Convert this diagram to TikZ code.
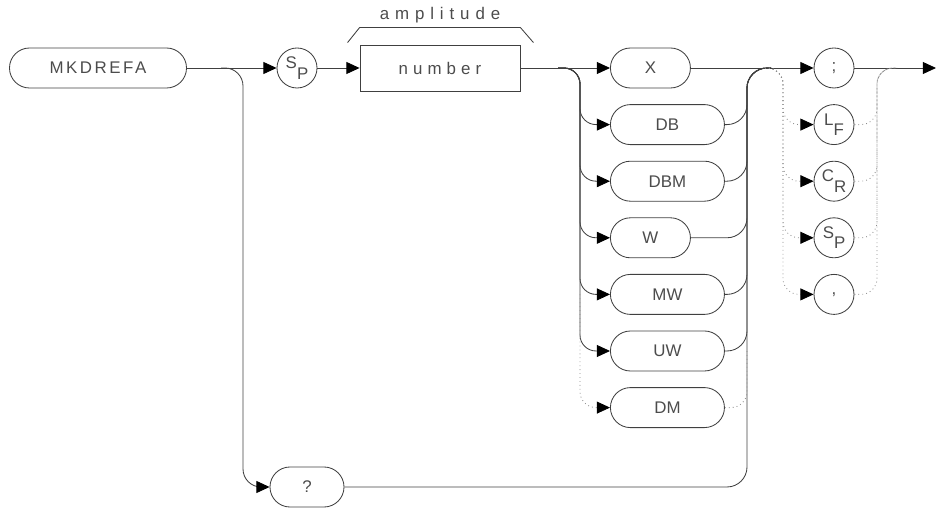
\documentclass[tikz,border=0pt]{standalone}
\usepackage{fontspec}
\setsansfont{Liberation Sans}
\usetikzlibrary{positioning,arrows.meta,calc}

% letter pair set high/low inside a terminator circle
\newcommand\updown[2]{\raisebox{.30em}{#1}\raisebox{-.32em}{#2}}
% tracked text, as the plotter font spaces it
\newcommand\spaced[2]{{\addfontfeatures{LetterSpace=#1}#2}}

\tikzset{
  wire/.style={draw=black!75, line width=0.6pt},
  dots/.style={draw=black!45, line width=0.6pt, dash pattern=on 0.6pt off 2.2pt},
  feed/.style={-{Triangle[length=0.33cm,width=0.30cm,color=black]}},
  lbl/.style={text=black!70, font=\sffamily\fontsize{12}{14}\selectfont},
  pill/.style={lbl, draw=black!75, line width=0.6pt, rounded corners=0.5cm,
    minimum height=1cm, inner sep=0pt},
  term/.style={lbl, draw=black!75, line width=0.6pt, circle, minimum size=1cm, inner sep=0pt},
  numbox/.style={lbl, draw=black!75, line width=0.6pt, minimum width=4cm,
    minimum height=1.15cm, inner sep=0pt}
}

\begin{document}
\begin{tikzpicture}[x=0.025cm, y=-0.025cm]
  \useasboundingbox (0,0) rectangle (936,510);
  \def\rowstep{56.6}
  % command and first parameter
  \node[pill, minimum width=4.425cm] (mk) at (98,68) {\spaced{15}{MKDREFA}};
  \node[term] (sp1) at (297,68) {\updown{S}{P}};
  \node[numbox] (number) at (440,68) {\spaced{30}{number}};
  \node[lbl] (amp) at (440,15) {\spaced{35}{amplitude}};
  \draw[wire] ($(number.north west)+(-12,-2)$) -- ($(number.north west)+(0,-17)$)
    -- ($(number.north east)+(0,-17)$) -- ($(number.north east)+(13,-2)$);
  % unit keywords, one per row
  \foreach \name/\txt/\w [count=\i from 0] in
      {X/X/2, DB/DB/2.85, DBM/DBM/2.85, W/W/2, MW/MW/2.85, UW/UW/2.85, DM/DM/2.85} {
    \node[pill, minimum width=\w cm, anchor=west] (\name) at (610,68+\rowstep*\i) {\txt};
  }
  % query
  \node[pill, minimum width=1.85cm] (q) at (307,487) {?};
  % terminators
  \foreach \name/\txt [count=\i from 0] in
      {semi/;, LF/\updown{L}{F}, CR/\updown{C}{R}, SP2/\updown{S}{P}, comma/{,}} {
    \node[term] (\name) at (834,68+\rowstep*\i) {\txt};
  }
  \coordinate (qb) at (243,68);
  \coordinate (lb) at (580,68);
  \coordinate (rb) at (747,68);
  \coordinate (tl) at (783,68);
  \coordinate (tr) at (877,68);
  \coordinate (out) at (936,68);

  % main line
  \draw[wire,feed] (mk.east) -- (sp1.west);
  \draw[wire,feed] (sp1.east) -- (number.west);
  \draw[wire,feed] (number.east) -- (X.west);
  \draw[wire,feed] (X.east) -- (semi.west);
  \draw[wire,feed] (semi.east) -- (out);
  % branch down to the query
  \draw[wire,feed,rounded corners=0.45cm] ($(qb)+(-22,0)$) -- (qb) -- (qb |- q) -- (q.west);
  % left bus into the units
  \foreach \r in {DB,DBM,W,MW,UW} {
    \draw[wire,feed,rounded corners=0.4cm] ($(lb)+(-22,0)$) -- (lb) -- (lb |- \r) -- (\r.west);
  }
  \draw[dots,feed,rounded corners=0.4cm] (lb |- MW) -- (lb |- DM) -- (DM.west);
  % right bus back to the main line
  \foreach \r in {DB,DBM,W,MW,UW,q} {
    \draw[wire,rounded corners=0.5cm] (\r.east) -- (rb |- \r) -- (rb) -- ++(24,0);
  }
  \draw[dots,rounded corners=0.4cm] (DM.east) -- (rb |- DM) -- (rb |- UW);
  % optional terminators
  \foreach \r in {LF,CR,SP2,comma} {
    \draw[dots,feed,rounded corners=0.4cm] ($(tl)+(-18,0)$) -- (tl) -- (tl |- \r) -- (\r.west);
    \draw[dots,rounded corners=0.4cm] (\r.east) -- (tr |- \r) -- (tr) -- ++(20,0);
  }
\end{tikzpicture}
\end{document}
